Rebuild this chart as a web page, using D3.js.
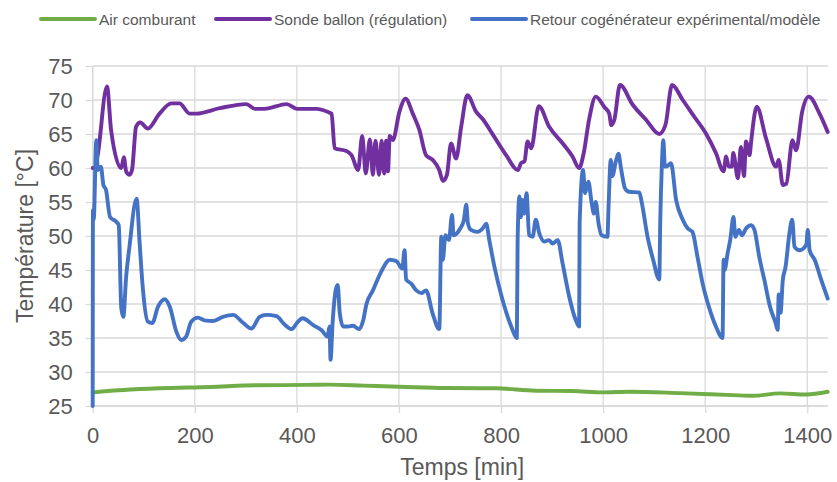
<!DOCTYPE html>
<html><head><meta charset="utf-8">
<script src="https://cdn.jsdelivr.net/npm/d3@7"></script>
<style>
html,body{margin:0;padding:0;background:#fff;}
text{font-family:"Liberation Sans",Arial,sans-serif;fill:#595959;}
</style></head>
<body><svg id="c" width="837" height="482"></svg>
<script>
// ---- data ----
const seriesNames = ["Air comburant", "Sonde ballon (régulation)", "Retour cogénérateur expérimental/modèle"];
const xTicks = [0, 200, 400, 600, 800, 1000, 1200, 1400];
const yTicks = [25, 30, 35, 40, 45, 50, 55, 60, 65, 70, 75];
const xTitle = "Temps [min]";
const yTitle = "Température [°C]";

const airData = [[0,27],[30,27.2],[60,27.35],[130,27.6],[230,27.8],[320,28.05],[420,28.1],[465,28.15],[530,28],[614,27.8],[692,27.65],[790,27.6],[868,27.25],[940,27.2],[1000,27],[1051,27.1],[1149,26.9],[1254,26.6],[1293,26.5],[1346,26.85],[1398,26.7],[1440,27.1]];

const sondeData = [[0,60],[5,60],[10,62],[28,72],[36,65.6],[56,60],[61,61.6],[65.5,59.5],[72,59],[77,59.7],[85,66.1],[93,66.7],[108,65.8],[131,68],[154,69.5],[170,69.5],[190,68],[203,68],[249,68.8],[301,69.4],[318,68.7],[337,68.7],[380,69.4],[400,68.7],[439,68.7],[462,68.2],[468,68],[474,62.9],[497,62.5],[507,61.9],[520,59.7],[528,64.7],[535,59.2],[543,64.2],[549,59],[554,64],[561,59],[566,64],[571,59.2],[575,64],[578.5,59.5],[582,64.7],[588,64.1],[601,68.3],[613,70.2],[627,68],[640,65.6],[653,61.9],[666,61.2],[679,59.7],[686,58.1],[694,59],[702,63.6],[712,61.4],[722,66.1],[734,70.7],[751,68.3],[764,67.2],[784,64.9],[810,61.9],[833,59.7],[839,60.7],[846,61],[852,63.9],[859,62.9],[874,69.1],[894,66.1],[921,63.6],[940,61.7],[953,60],[962,62.2],[972.5,67.1],[985.6,70.5],[1002,69],[1012,68],[1016,66.3],[1022,67.1],[1033,72.2],[1058,69.3],[1084,67.1],[1110,65],[1122,66.3],[1135,72.2],[1156,70],[1179,67.5],[1202,65],[1221,62.2],[1236,59.5],[1241,61.7],[1246,60.2],[1252,60.2],[1255,62.2],[1264,58.5],[1270,63.1],[1276,58.8],[1280,63.9],[1287,61.9],[1290,63.9],[1301,69],[1319,64.4],[1339,60.2],[1344,61.2],[1352,57.5],[1359,57.7],[1371,64.1],[1378,62.6],[1390,68.3],[1403,70.5],[1424,68],[1440,65.3]];

const retourData = [[0,25],[0.5,53.8],[2,52.4],[7,64.1],[10,59.7],[16,60.2],[21,57.5],[26,56.8],[34,52.8],[46,52.1],[51,51.6],[56,39.4],[60,38.1],[65.5,44],[72,48.4],[86,55.5],[92,48.9],[98,42.5],[108,37.4],[116.6,37.2],[128,39.6],[141,40.7],[151,39.6],[164,35.9],[173.5,34.7],[183,35.2],[193,37.4],[206,38],[219,37.6],[236,37.5],[255,38.1],[275,38.4],[295,37.2],[311,36.4],[327,38.1],[340,38.4],[360,38.2],[377,36.9],[390,36.3],[400,37.2],[411,37.9],[432,36.9],[449,36.1],[460,35.2],[464,36.7],[466,31.8],[470,37.2],[476,42],[480,42.8],[484,38.7],[490.5,36.7],[500,36.7],[510,36.8],[522,36.3],[530,37.6],[536,39.9],[549,42],[565.5,44.8],[582,46.5],[595,46.3],[606.5,45.2],[611,47.9],[614,43.6],[624,43],[634,42],[644,41.6],[653,42],[666,38.6],[679,36.3],[683,49.9],[686,46.5],[691,50.1],[698,49.4],[704,53.1],[707,50.1],[720,51.1],[727,52.3],[732,54.6],[735,51.9],[741,50.9],[754,50.6],[764,51.1],[771,51.8],[777,49.4],[787,45.5],[803,40.6],[820,36.7],[831,35],[832.5,49.4],[836,55.8],[839,52.8],[842,55.3],[845.5,53.3],[850,56.3],[855,50.1],[862,49.9],[868,52.4],[875,50.4],[885,49.2],[894,49.4],[901,48.9],[911,49.4],[920.5,46],[933.5,41.1],[946.5,37.6],[953,36.7],[954,51.9],[960.7,59.7],[964.6,56.3],[971,58],[977.7,54.8],[982,53.3],[985.6,55],[991,51.9],[997,50.1],[1008.5,49.9],[1010.5,54],[1015,61.2],[1018,58.8],[1025,61],[1030,62.1],[1034.7,60.1],[1043,57],[1051,56.5],[1071,56.4],[1076,54.8],[1087,49.9],[1098,46.5],[1110,43.6],[1112,52.4],[1115,60.2],[1118,64.1],[1121,60.2],[1126,60.3],[1133,60.7],[1143,55.3],[1156,52.4],[1166,51.1],[1175,50.6],[1185,46.9],[1195,43],[1208,39.4],[1221,36.7],[1234,35],[1236,46.5],[1238,45],[1244,47.5],[1249,49.4],[1255.5,52.8],[1259,49.9],[1266,50.9],[1272,50.1],[1280,51.1],[1290,51.6],[1296.5,50.9],[1306,46.9],[1316,43.5],[1327,39.6],[1338,37.2],[1342,36.2],[1344,41.4],[1347.6,38.7],[1352,43.5],[1357.5,45.5],[1365,50.4],[1370.5,52.4],[1375,48.4],[1385,47.9],[1398,48.7],[1401,50.9],[1404.6,47.9],[1414.5,46.5],[1427.5,43.5],[1440,40.8]];

const seriesColors = ["#70AD47", "#7030A0", "#4472C4"];

// ---- layout ----
const svg = d3.select("#c");
const plotL = 92.7, plotR = 827.7, plotT = 66, plotB = 406;
const x = d3.scaleLinear().domain([0, 1440]).range([plotL, plotR]);
const y = d3.scaleLinear().domain([25, 75]).range([plotB, plotT]);

const gridColor = "#d9d9d9";

// gridlines
svg.append("g").selectAll("line").data(yTicks).join("line")
  .attr("x1", plotL).attr("x2", plotR)
  .attr("y1", d => y(d)).attr("y2", d => y(d))
  .attr("stroke", gridColor).attr("stroke-width", 1.3);
svg.append("g").selectAll("line").data(xTicks).join("line")
  .attr("x1", d => x(d)).attr("x2", d => x(d))
  .attr("y1", plotT).attr("y2", plotB)
  .attr("stroke", gridColor).attr("stroke-width", 1.3);

// axes
const xAxis = d3.axisBottom(x).tickValues(xTicks).tickSize(7).tickPadding(14).tickFormat(d3.format("d"));
const yAxis = d3.axisLeft(y).tickValues(yTicks).tickSize(7).tickPadding(13).tickFormat(d3.format("d"));
const gx = svg.append("g").attr("transform", `translate(0,${plotB})`).call(xAxis);
const gy = svg.append("g").attr("transform", `translate(${plotL},0)`).call(yAxis);
[gx, gy].forEach(g => {
  g.select(".domain").attr("stroke", gridColor).attr("stroke-width", 1.3);
  g.selectAll(".tick line").attr("stroke", gridColor).attr("stroke-width", 1.3);
  g.selectAll(".tick text").attr("fill", "#595959").style("font-size", "22px")
    .style("font-family", '"Liberation Sans",Arial,sans-serif');
});
gy.select(".domain").attr("d", `M0,${plotB}V${plotT}`);
gx.select(".domain").attr("d", `M${plotL},0H${plotR}`);

// lines
const line = d3.line().x(d => x(d[0])).y(d => y(d[1])).curve(d3.curveMonotoneX);
[airData, sondeData, retourData].forEach((data, i) => {
  svg.append("path").datum(data).attr("d", line)
    .attr("fill", "none").attr("stroke", seriesColors[i])
    .attr("stroke-width", 3.9).attr("stroke-linejoin", "round").attr("stroke-linecap", "round");
});

// axis titles
svg.append("text").attr("x", (plotL + plotR) / 2 + 2).attr("y", 475)
  .attr("text-anchor", "middle").style("font-size", "23px").text(xTitle);
svg.append("text").attr("transform", `translate(33,${(plotT + plotB) / 2}) rotate(-90)`)
  .attr("text-anchor", "middle").style("font-size", "23px").text(yTitle);

// legend
const legendX = [41, 216, 472];
const legendY = 19;
const lg = svg.append("g");
seriesNames.forEach((name, i) => {
  lg.append("line").attr("x1", legendX[i]).attr("x2", legendX[i] + 54)
    .attr("y1", legendY).attr("y2", legendY)
    .attr("stroke", seriesColors[i]).attr("stroke-width", 4).attr("stroke-linecap", "round");
  lg.append("text").attr("x", legendX[i] + 58).attr("y", legendY + 5.5)
    .style("font-size", "15.5px").text(name);
});
</script></body></html>
